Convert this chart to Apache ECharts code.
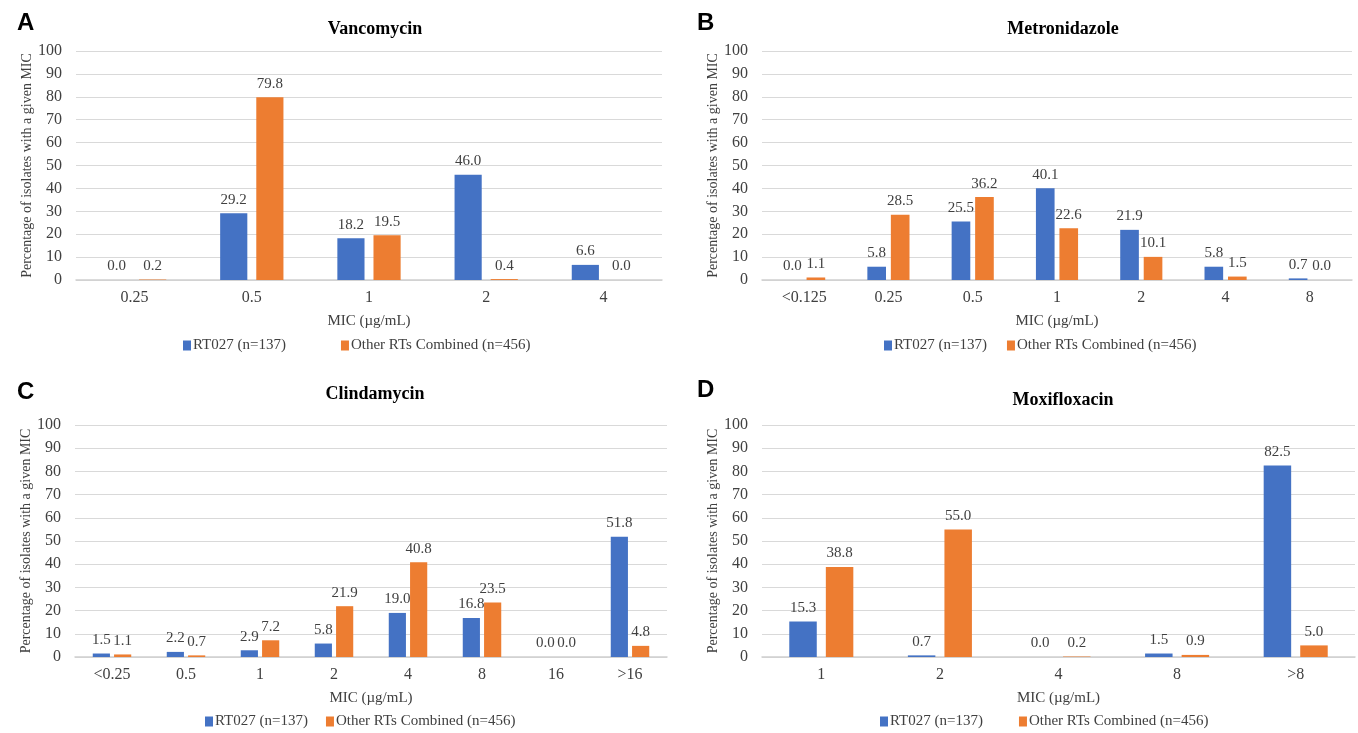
<!DOCTYPE html>
<html>
<head>
<meta charset="utf-8">
<script src="https://cdn.jsdelivr.net/npm/echarts@6/dist/echarts.min.js"></script>
<style>
  html, body { margin: 0; padding: 0; background: #fff; }
  #chart { width: 1358px; height: 733px; }
</style>
</head>
<body>
<div id="chart"></div>
<script>
// panel A - Vancomycin
const vancoCats = ['0.25', '0.5', '1', '2', '4']
const vancoRT027 = [0.0, 29.2, 18.2, 46.0, 6.6]
const vancoOther = [0.2, 79.8, 19.5, 0.4, 0.0]
// panel B - Metronidazole
const metroCats = ['<0.125', '0.25', '0.5', '1', '2', '4', '8']
const metroRT027 = [0.0, 5.8, 25.5, 40.1, 21.9, 5.8, 0.7]
const metroOther = [1.1, 28.5, 36.2, 22.6, 10.1, 1.5, 0.0]
// panel C - Clindamycin
const clindaCats = ['<0.25', '0.5', '1', '2', '4', '8', '16', '>16']
const clindaRT027 = [1.5, 2.2, 2.9, 5.8, 19.0, 16.8, 0.0, 51.8]
const clindaOther = [1.1, 0.7, 7.2, 21.9, 40.8, 23.5, 0.0, 4.8]
// panel D - Moxifloxacin
const moxiCats = ['1', '2', '4', '8', '>8']
const moxiRT027 = [15.3, 0.7, 0.0, 1.5, 82.5]
const moxiOther = [38.8, 55.0, 0.2, 0.9, 5.0]

const yTicks = [0, 10, 20, 30, 40, 50, 60, 70, 80, 90, 100]

const nameA = 'RT027 (n=137)'
const nameB = 'Other RTs Combined (n=456)'
const BLUE = '#4472C4'
const ORANGE = '#ED7D31'
const SERIF = '"Liberation Serif", "Times New Roman", serif'

const panels = [
  { letter: 'A', title: 'Vancomycin', cats: vancoCats, a: vancoRT027, b: vancoOther,
    grid: { left: 76, right: 696, top: 51, bottom: 453 }, letterPos: [12, 6], titlePos: [370, 15],
    legendPos: [178, 333], legendGap: 55, catGap: '46%', gap: '33%' },
  { letter: 'B', title: 'Metronidazole', cats: metroCats, a: metroRT027, b: metroOther,
    grid: { left: 762, right: 6, top: 51, bottom: 453 }, letterPos: [692, 6], titlePos: [1058, 15],
    legendPos: [879, 333], legendGap: 20, catGap: '50%', gap: '26%' },
  { letter: 'C', title: 'Clindamycin', cats: clindaCats, a: clindaRT027, b: clindaOther,
    grid: { left: 75, right: 691, top: 425, bottom: 76 }, letterPos: [12, 375], titlePos: [370, 380],
    legendPos: [200, 709], legendGap: 18, catGap: '48%', gap: '24%' },
  { letter: 'D', title: 'Moxifloxacin', cats: moxiCats, a: moxiRT027, b: moxiOther,
    grid: { left: 762, right: 3, top: 425, bottom: 76 }, letterPos: [692, 373], titlePos: [1058, 386],
    legendPos: [875, 709], legendGap: 36, catGap: '46%', gap: '33%' }
]

const labelOpt = {
  show: true,
  position: 'top',
  distance: 6,
  fontFamily: SERIF,
  fontSize: 15,
  color: '#404040',
  formatter: (p) => p.value.toFixed(1)
}

const option = {
  backgroundColor: '#fff',
  animation: false,
  title: [],
  legend: [],
  grid: [],
  xAxis: [],
  yAxis: [],
  series: []
}

panels.forEach((p, i) => {
  option.title.push({
    text: p.letter,
    left: p.letterPos[0],
    top: p.letterPos[1],
    textStyle: { fontFamily: '"Liberation Sans", Arial, sans-serif', fontWeight: 'bold', fontSize: 24, color: '#000' }
  })
  option.title.push({
    text: p.title,
    left: p.titlePos[0],
    top: p.titlePos[1],
    textAlign: 'center',
    textStyle: { fontFamily: SERIF, fontWeight: 'bold', fontSize: 18, color: '#000' }
  })
  option.legend.push({
    data: [nameA, nameB],
    left: p.legendPos[0],
    top: p.legendPos[1],
    icon: 'rect',
    itemWidth: 8,
    itemHeight: 10,
    itemGap: p.legendGap,
    textStyle: { fontFamily: SERIF, fontSize: 15, color: '#404040', padding: [0, 0, 0, -3] }
  })
  option.grid.push(Object.assign({ containLabel: false }, p.grid))
  option.xAxis.push({
    type: 'category',
    gridIndex: i,
    data: p.cats,
    name: 'MIC (µg/mL)',
    nameLocation: 'middle',
    nameGap: 34,
    nameTextStyle: { fontFamily: SERIF, fontSize: 15, color: '#404040' },
    axisLine: { lineStyle: { color: '#d0d0d0', width: 1.5 } },
    axisTick: { show: false },
    axisLabel: { fontFamily: SERIF, fontSize: 16, color: '#404040', margin: 10 }
  })
  option.yAxis.push({
    type: 'value',
    gridIndex: i,
    min: yTicks[0],
    max: yTicks[yTicks.length - 1],
    interval: yTicks[1] - yTicks[0],
    name: 'Percentage of isolates with a given MIC',
    nameLocation: 'middle',
    nameGap: 40,
    nameTextStyle: { fontFamily: SERIF, fontSize: 14, color: '#404040' },
    axisLine: { show: false },
    axisTick: { show: false },
    axisLabel: { fontFamily: SERIF, fontSize: 16, color: '#404040', margin: 14 },
    splitLine: { lineStyle: { color: '#d9d9d9', width: 1.2 } }
  })
  option.series.push({
    name: nameA,
    type: 'bar',
    xAxisIndex: i,
    yAxisIndex: i,
    data: p.a,
    barGap: p.gap,
    barCategoryGap: p.catGap,
    itemStyle: { color: BLUE },
    label: labelOpt
  })
  option.series.push({
    name: nameB,
    type: 'bar',
    xAxisIndex: i,
    yAxisIndex: i,
    data: p.b,
    barGap: p.gap,
    barCategoryGap: p.catGap,
    itemStyle: { color: ORANGE },
    label: labelOpt
  })
})

const myChart = echarts.init(document.getElementById('chart'))
myChart.setOption(option)
</script>
</body>
</html>
